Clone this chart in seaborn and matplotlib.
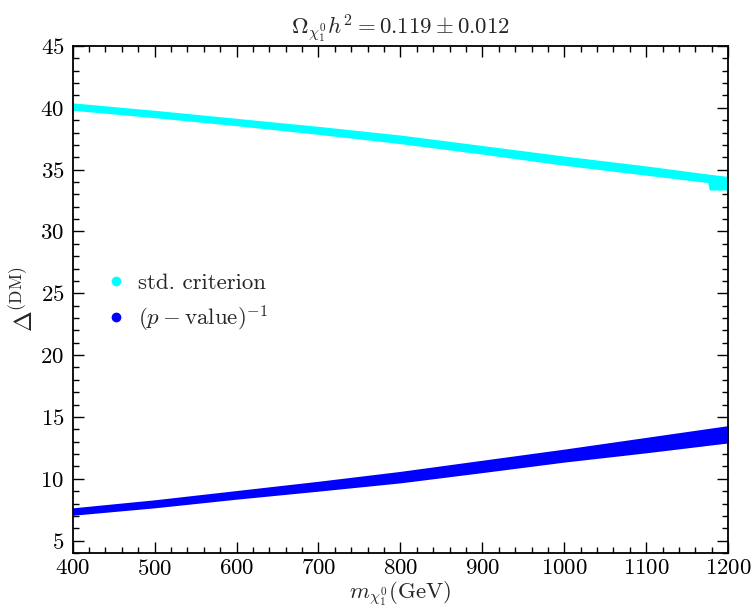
import numpy as np
import pandas as pd
import matplotlib
matplotlib.use("Agg")
import matplotlib.pyplot as plt
import seaborn as sns
from matplotlib.lines import Line2D
from matplotlib.ticker import MultipleLocator

# ---- data (band edges) ----
cyan_x = [400, 500, 600, 700, 800, 900, 1000, 1100, 1175, 1177, 1200]
cyan_hi = [40.4, 39.8, 39.15, 38.5, 37.8, 36.95, 36.1, 35.3, 34.65, 34.63, 34.45]
cyan_lo = [39.8, 39.2, 38.55, 37.85, 37.1, 36.25, 35.35, 34.55, 33.95, 33.35, 33.35]

blue_x = [400, 500, 600, 700, 800, 900, 1000, 1100, 1200]
blue_hi = [7.65, 8.3, 9.05, 9.8, 10.6, 11.5, 12.4, 13.35, 14.3]
blue_lo = [7.05, 7.65, 8.35, 9.0, 9.67, 10.5, 11.35, 12.1, 12.9]

labels = ["std. criterion", r"$(p-\mathrm{value})^{-1}$"]
colors = ["#00FFFF", "#0000FF"]

sns.set_style("ticks")
plt.rcParams.update({
    "font.family": ["cmr10", "DejaVu Serif"],
    "mathtext.fontset": "cm",
    "axes.unicode_minus": False,
    "axes.formatter.use_mathtext": True,
})

def long_df(x, lo, hi):
    return pd.DataFrame({"x": list(x) + list(x), "y": list(lo) + list(hi)})

fig = plt.figure(figsize=(7.53, 6.09), dpi=100)
ax = fig.add_axes([0.0965, 0.0920, 0.8705, 0.8325])

for (x, lo, hi), c in zip([(cyan_x, cyan_lo, cyan_hi), (blue_x, blue_lo, blue_hi)], colors):
    sns.lineplot(data=long_df(x, lo, hi), x="x", y="y", estimator="mean",
                 errorbar=("pi", 100), color=c, lw=0,
                 err_kws={"alpha": 1, "linewidth": 0}, ax=ax)

ax.set_xlim(400, 1200)
ax.set_ylim(4, 45)
ax.xaxis.set_major_locator(MultipleLocator(100))
ax.xaxis.set_minor_locator(MultipleLocator(20))
ax.yaxis.set_major_locator(MultipleLocator(5))
ax.yaxis.set_minor_locator(MultipleLocator(1))
ax.tick_params(which="both", direction="in", top=True, right=True,
               colors="black", width=1.0)
ax.tick_params(which="major", length=8, labelsize=16.5, pad=6)
ax.tick_params(axis="x", which="major", pad=4)
ax.tick_params(which="minor", length=4)
for s in ax.spines.values():
    s.set_linewidth(1.3)
    s.set_color("black")

ax.set_title(r"$\Omega_{\chi_1^0}h^2 = 0.119 \pm 0.012$", fontsize=16.5, pad=8)
ax.set_xlabel(r"$m_{\chi_1^0}(\mathrm{GeV})$", fontsize=16.5, labelpad=0)
ax.set_ylabel(r"$\Delta^{(\mathrm{DM})}$", fontsize=18, labelpad=2)

handles = [Line2D([], [], marker="o", ls="", color=c, ms=6) for c in colors]
ax.legend(handles, labels, loc="center left", bbox_to_anchor=(0.02, 0.492),
          frameon=False, fontsize=16.5, handlelength=0.8, handletextpad=0.6,
          labelspacing=0.45)

fig.savefig("out.png", dpi=100)
